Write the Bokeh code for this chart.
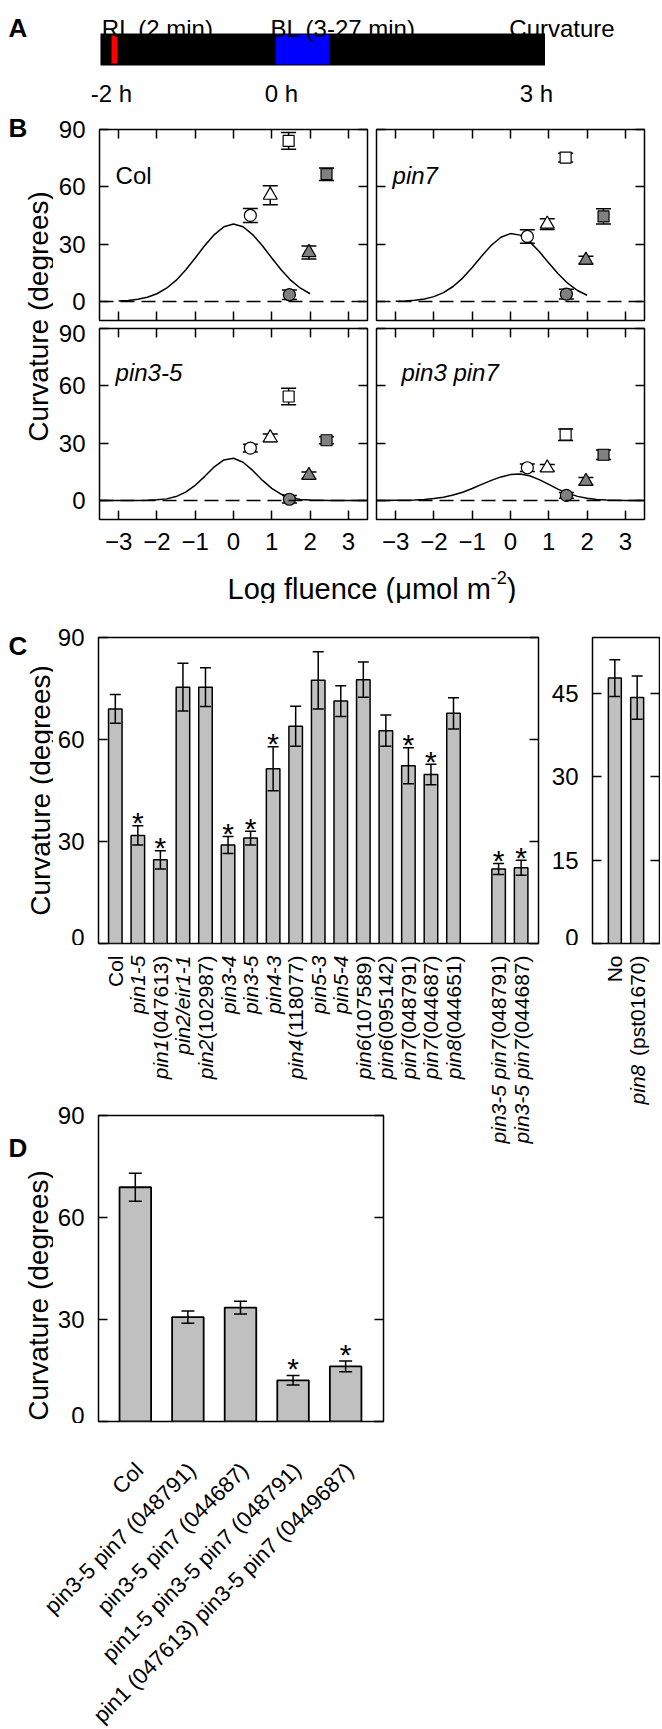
import math
from bokeh.plotting import figure
from bokeh.layouts import column, row
from bokeh.models import Range1d, FixedTicker, LinearAxis, Span, Spacer
from bokeh.core.properties import value
from bokeh.embed import file_html
from bokeh.resources import INLINE

FONT = "Liberation Sans"
BAR_GREY = "#c0c0c0"
MK_GREY = "#808080"

# ---------------- Panel A : light schedule (hours) ----------------
schedule_span = [-2.13, 3.10]
rl_pulse = [-2.00, -1.93]
bl_pulse = [-0.07, 0.56]
time_ticks = [-2, 0, 3]
time_tick_labels = ["-2 h", "0 h", "3 h"]
stage_labels = ["RL (2 min)", "BL (3-27 min)", "Curvature"]

# ---------------- Panel B : fluence response ----------------
b_names = ["Col", "pin7", "pin3-5", "pin3 pin7"]
b_italic = [False, True, True, True]
series_marker = ["circle", "triangle", "square", "square", "triangle", "circle"]
series_filled = [False, False, False, True, True, True]
series_logfluence = [0.44, 0.96, 1.44, 2.43, 1.97, 1.46]

col_mean = [45.0, 55.6, 84.0, 66.6, 25.6, 3.5]
col_err = [3.7, 5.0, 4.4, 3.3, 3.4, 2.5]
pin7_mean = [34.0, 40.5, 75.3, 44.5, 21.6, 3.8]
pin7_err = [3.5, 2.8, 2.3, 4.0, 2.0, 2.5]
pin35_mean = [27.4, 32.8, 54.4, 31.5, 13.1, 0.6]
pin35_err = [2.0, 2.0, 4.3, 1.8, 1.8, 2.0]
pin3pin7_mean = [17.1, 17.0, 34.4, 23.9, 10.0, 2.6]
pin3pin7_err = [2.0, 1.8, 3.0, 2.5, 2.0, 1.5]

curve_upper_x = [-3.0, -2.75, -2.5, -2.25, -2.0, -1.75, -1.5, -1.25, -1.0, -0.75, -0.5,
                 -0.25, 0.0, 0.25, 0.5, 0.75, 1.0, 1.25, 1.5, 1.75, 2.0]
col_curve = [0.2, 0.5, 1.1, 2.2, 4.0, 6.9, 11.0, 16.4, 22.7, 29.3, 35.0,
             39.1, 40.5, 39.1, 35.0, 29.3, 22.7, 16.4, 11.0, 6.9, 4.0]
pin7_curve = [0.1, 0.25, 0.6, 1.3, 2.5, 4.6, 7.8, 12.2, 17.8, 23.8, 29.4,
              33.6, 35.5, 34.7, 31.3, 26.1, 20.1, 14.3, 9.4, 5.7, 3.2]
curve_lower_x = [-3.5, -3.25, -3.0, -2.75, -2.5, -2.25, -2.0, -1.75, -1.5, -1.25, -1.0,
                 -0.75, -0.5, -0.25, 0.0, 0.25, 0.5, 0.75, 1.0, 1.25, 1.5, 1.75, 2.0,
                 2.25, 2.5, 2.75, 3.0, 3.25, 3.5]
pin35_curve = [0.0, 0.0, 0.0, 0.0, 0.0, 0.1, 0.3, 0.8, 2.0, 4.3, 7.9,
               12.6, 17.6, 21.2, 22.1, 20.0, 15.7, 10.6, 6.3, 3.2, 1.4, 0.5, 0.2,
               0.1, 0.0, 0.0, 0.0, 0.0, 0.0]
pin3pin7_curve = [0.0, 0.0, 0.05, 0.1, 0.25, 0.5, 0.95, 1.7, 2.8, 4.3, 6.2,
                  8.4, 10.5, 12.3, 13.5, 13.8, 12.9, 10.9, 8.4, 5.8, 3.7, 2.1, 1.1,
                  0.5, 0.2, 0.1, 0.0, 0.0, 0.0]
b_yticks = [0, 30, 60, 90]
b_xticks = [-3, -2, -1, 0, 1, 2, 3]

# ---------------- Panel C : mutant screen ----------------
c_gene = ["", "pin1-5", "pin1", "pin2/eir1-1", "pin2", "pin3-4", "pin3-5", "pin4-3", "pin4",
          "pin5-3", "pin5-4", "pin6", "pin6", "pin7", "pin7", "pin8", "pin3-5 pin7", "pin3-5 pin7"]
c_allele = ["Col", "", "(047613)", "", "(102987)", "", "", "", "(118077)",
            "", "", "(107589)", "(095142)", "(048791)", "(044687)", "(044651)", "(048791)", "(044687)"]
c_mean = [69.0, 31.8, 24.6, 75.4, 75.4, 29.0, 31.0, 51.4, 63.9,
          77.4, 71.3, 77.6, 62.6, 52.3, 49.7, 67.7, 21.9, 22.3]
c_err = [4.2, 2.8, 2.7, 7.0, 5.7, 2.5, 2.0, 6.5, 5.9,
         8.4, 4.5, 5.2, 4.6, 5.3, 3.0, 4.6, 1.6, 2.2]
c_star = [0, 1, 1, 0, 0, 1, 1, 1, 0, 0, 0, 0, 0, 1, 1, 0, 1, 1]
c_yticks = [0, 30, 60, 90]

c2_gene = ["", "pin8"]
c2_allele = ["No", " (pst01670)"]
c2_mean = [47.7, 44.2]
c2_err = [3.3, 3.9]
c2_yticks = [0, 15, 30, 45]

# ---------------- Panel D : higher order mutants ----------------
d_cats = ["Col", "pin3-5 pin7 (048791)", "pin3-5 pin7 (044687)",
          "pin1-5 pin3-5 pin7 (048791)", "pin1 (047613) pin3-5 pin7 (0449687)"]
d_mean = [68.9, 30.7, 33.5, 12.1, 16.2]
d_err = [4.1, 1.8, 1.9, 1.4, 1.6]
d_star = [0, 0, 0, 1, 1]
d_yticks = [0, 30, 60, 90]

# ---------------- helpers ----------------
_W = {' ': 278, '(': 333, ')': 333, '-': 333, '/': 278, '*': 389,
      'C': 722, 'N': 722, 'L': 556, 'a': 556, 'c': 500, 'e': 556, 'f': 278, 'g': 556,
      'i': 222, 'l': 222, 'm': 833, 'n': 556, 'o': 556, 'p': 556, 'r': 333, 's': 500,
      't': 278, 'u': 556, 'μ': 576}


def text_width(s, size):
    return sum(_W.get(ch, 556) for ch in s) * size / 1000.0


def base_fig(**kw):
    opts = dict(x_axis_location=None, y_axis_location=None, toolbar_location=None,
                output_backend="svg", background_fill_color="white", border_fill_color="white",
                frame_align=False)
    opts.update(kw)
    p = figure(**opts)
    p.xgrid.grid_line_color = None
    p.ygrid.grid_line_color = None
    return p


def text_fig(w, h, xr=None, **kw):
    """A blank canvas whose frame is the whole canvas (y measured downward in px)."""
    xr = xr if xr is not None else (0, w)
    return base_fig(width=w, height=h, x_range=Range1d(*xr), y_range=Range1d(h, 0),
                    min_border=0, min_border_left=0, min_border_right=0, min_border_top=0,
                    min_border_bottom=0, outline_line_color=None, **kw)


def add_axis(p, side, ticks, show_labels, standoff=14):
    ax = LinearAxis(ticker=FixedTicker(ticks=ticks), axis_line_color=None,
                    major_tick_in=9, major_tick_out=0, major_tick_line_width=1.5,
                    major_tick_line_color="black", minor_tick_line_color=None)
    if show_labels:
        ax.major_label_text_font = FONT
        ax.major_label_text_font_size = "24px"
        ax.major_label_text_color = "black"
        ax.major_label_standoff = standoff
    else:
        ax.major_label_text_font_size = "0px"
        ax.major_label_standoff = 0
        ax.major_label_overrides = {t: "" for t in ticks}
    p.add_layout(ax, side)


def txt(p, x, y, s, size, style="normal", align="left", baseline="alphabetic", angle=0.0):
    p.text(x=[x], y=[y], text=[s], text_font=value(FONT), text_font_size=size,
           text_font_style=style, text_align=align, text_baseline=baseline,
           angle=angle, text_color="black")


def px_range(xr, fw, frame_left, c0, c1):
    """data range seen by a canvas spanning canvas-x c0..c1, for a frame starting at frame_left."""
    s = fw / float(xr[1] - xr[0])
    return (xr[0] + (c0 - frame_left) / s, xr[0] + (c1 - frame_left) / s)


# ================= Panel A =================
A_W, A_H = 652, 105
pA = text_fig(A_W, A_H, xr=(-3.212, 4.459))
pA.quad(left=[schedule_span[0]], right=[schedule_span[1]], top=[33], bottom=[65],
        fill_color="black", line_color=None)
pA.quad(left=[rl_pulse[0]], right=[rl_pulse[1]], top=[35], bottom=[63],
        fill_color="#ff0000", line_color=None)
pA.quad(left=[bl_pulse[0]], right=[bl_pulse[1]], top=[34], bottom=[64],
        fill_color="#0000ff", line_color=None)
for s, sx, al in zip(stage_labels, [-2.114, -0.13, 3.92], ["left", "left", "right"]):
    txt(pA, sx, 28, s, "24px", align=al)
for t, lab in zip(time_ticks, time_tick_labels):
    txt(pA, t, 93, lab, "24px", align="center")
txt(pA, -3.212, 27, "A", "26px", style="bold")

# ================= Panel B =================
B_FW, B_FH = 268, 191


def make_b(k, mean, err, cx, cy, left_lbl, bottom_lbl, bl, br, bt, bb, name_y):
    p = base_fig(frame_width=B_FW, frame_height=B_FH, x_range=Range1d(-3.5, 3.5),
                 y_range=Range1d(-10, 90), min_border_left=bl, min_border_right=br,
                 min_border_top=bt, min_border_bottom=bb,
                 outline_line_color="black", outline_line_width=1.5)
    add_axis(p, "left", b_yticks, left_lbl)
    add_axis(p, "right", b_yticks, False)
    add_axis(p, "below", b_xticks, bottom_lbl, standoff=13)
    add_axis(p, "above", b_xticks, False)
    p.add_layout(Span(location=0, dimension="width", line_color="black",
                      line_width=1.5, line_dash="14 7"))
    p.line(cx, cy, line_color="black", line_width=1.5)
    xs = series_logfluence
    lo = [m - e for m, e in zip(mean, err)]
    hi = [m + e for m, e in zip(mean, err)]
    p.segment(x0=xs, y0=lo, x1=xs, y1=hi, line_color="black", line_width=1.5)
    p.scatter(x=xs + xs, y=lo + hi, marker="dash", size=15, line_color="black", line_width=1.5)
    sizes = {"circle": 12, "triangle": 14, "square": 11}
    for j in range(len(xs)):
        p.scatter(x=[xs[j]], y=[mean[j]], marker=series_marker[j], size=sizes[series_marker[j]],
                  fill_color=MK_GREY if series_filled[j] else "white",
                  line_color="black", line_width=1.2)
    txt(p, -3.08 if k != 3 else -2.85, name_y, b_names[k], "24px",
        style="italic" if b_italic[k] else "normal")
    return p


pUL = make_b(0, col_mean, col_err, curve_upper_x, col_curve, True, False, 46, 4, 24, 4, 66)
pUR = make_b(1, pin7_mean, pin7_err, curve_upper_x, pin7_curve, False, False, 5, 16, 24, 4, 66)
pLL = make_b(2, pin35_mean, pin35_err, curve_lower_x, pin35_curve, True, True, 46, 4, 4, 46, 67)
pLR = make_b(3, pin3pin7_mean, pin3pin7_err, curve_lower_x, pin3pin7_curve, False, True, 5, 16, 4, 46, 67)

pBs = text_fig(45, 460)
txt(pBs, 0, 22, "B", "26px", style="bold")
txt(pBs, 30, 211, "Curvature (degrees)", "28px", align="center", baseline="middle", angle=math.pi / 2)

BX_H = 38
pBx = text_fig(652, BX_H)
main_t, sup_t, close_t = "Log fluence (μmol m", "-2", ")"
w_main, w_sup, w_close = text_width(main_t, 29), text_width(sup_t, 18), text_width(close_t, 29)
x0 = 363.5 - (w_main + w_sup + w_close) / 2.0
txt(pBx, x0, 23, main_t, "29px")
txt(pBx, x0 + w_main, 12, sup_t, "18px")
txt(pBx, x0 + w_main + w_sup, 23, close_t, "29px")

# ================= Panel C =================
C_FH = 306
C_TOP, C_BOT = 34, 2
c_x = [i if i < 16 else i + 1 for i in range(len(c_mean))]
C_XR = (-0.745, 18.77)
C_FW, C_BL, C_BR = 440, 45, 6
C_FRAME_LEFT = 45 + C_BL
pC = base_fig(frame_width=C_FW, frame_height=C_FH, x_range=Range1d(*C_XR), y_range=Range1d(0, 90),
              min_border_left=C_BL, min_border_right=C_BR, min_border_top=C_TOP, min_border_bottom=C_BOT,
              outline_line_color="black", outline_line_width=1.5)
add_axis(pC, "left", c_yticks, True)
add_axis(pC, "right", c_yticks, False)
pC.vbar(x=c_x, top=c_mean, bottom=0, width=0.6, fill_color=BAR_GREY, line_color="black", line_width=1.5)
c_lo = [m - e for m, e in zip(c_mean, c_err)]
c_hi = [m + e for m, e in zip(c_mean, c_err)]
pC.segment(x0=c_x, y0=c_lo, x1=c_x, y1=c_hi, line_color="black", line_width=1.5)
pC.scatter(x=c_x + c_x, y=c_lo + c_hi, marker="dash", size=11, line_color="black", line_width=1.5)
sx = [c_x[i] for i in range(len(c_x)) if c_star[i]]
sy = [c_hi[i] + 0.9 for i in range(len(c_x)) if c_star[i]]
pC.text(x=sx, y=sy, text=["*"] * len(sx), text_font=value(FONT), text_font_size="30px",
        text_align="center", text_baseline="alphabetic")

C2_XR = (-1, 2)
C2_FW, C2_BL, C2_BR = 67, 48, 1
c2_x = list(range(len(c2_mean)))
pC2 = base_fig(frame_width=C2_FW, frame_height=C_FH, x_range=Range1d(*C2_XR), y_range=Range1d(0, 55),
               min_border_left=C2_BL, min_border_right=C2_BR, min_border_top=C_TOP, min_border_bottom=C_BOT,
               outline_line_color="black", outline_line_width=1.5)
add_axis(pC2, "left", c2_yticks, True)
add_axis(pC2, "right", c2_yticks, False)
pC2.vbar(x=c2_x, top=c2_mean, bottom=0, width=0.58, fill_color=BAR_GREY, line_color="black", line_width=1.5)
c2_lo = [m - e for m, e in zip(c2_mean, c2_err)]
c2_hi = [m + e for m, e in zip(c2_mean, c2_err)]
pC2.segment(x0=c2_x, y0=c2_lo, x1=c2_x, y1=c2_hi, line_color="black", line_width=1.5)
pC2.scatter(x=c2_x + c2_x, y=c2_lo + c2_hi, marker="dash", size=11, line_color="black", line_width=1.5)

pCs = text_fig(45, C_TOP + C_FH + C_BOT)
txt(pCs, 0, 42, "C", "26px", style="bold")
txt(pCs, 32, C_TOP + C_FH / 2.0, "Curvature (degrees)", "28px", align="center", baseline="middle",
    angle=math.pi / 2)

# ---- panel D geometry (needed for the label strip sizes) ----
D_FW, D_FH, D_BL, D_TOP, D_BOT = 285, 306, 45, 27, 2
D_SHIFT = 27            # extra offset the layout gives the D plot inside its row

# label strips under panel C: left part (above panel D) and right part
LEFT_W = 389
C_CANVAS_W = 45 + C_BL + C_FW + C_BR
LABC_LEFT_H = 170 - D_SHIFT
LABC_RIGHT_H = 210
xr_left = px_range(C_XR, C_FW, C_FRAME_LEFT, 0, LEFT_W)
xr_right = px_range(C_XR, C_FW, C_FRAME_LEFT, LEFT_W, C_CANVAS_W)
labC_left = text_fig(LEFT_W, LABC_LEFT_H, xr=xr_left)
labC_right = text_fig(C_CANVAS_W - LEFT_W, LABC_RIGHT_H, xr=xr_right)
labC2 = text_fig(C2_BL + C2_FW + C2_BR, LABC_RIGHT_H,
                 xr=px_range(C2_XR, C2_FW, C2_BL, 0, C2_BL + C2_FW + C2_BR))


def rot_label(p, x, g, a, top_y=10, size=21):
    yy = top_y
    if a:
        txt(p, x, yy, a.strip(), "%dpx" % size, align="right", baseline="middle", angle=math.pi / 2)
        yy += text_width(a, size) + (3 if a.startswith(" ") else 0)
    if g:
        txt(p, x, yy, g, "%dpx" % size, style="italic", align="right", baseline="middle",
            angle=math.pi / 2)


for x, g, a in zip(c_x, c_gene, c_allele):
    rot_label(labC_left if x < xr_left[1] - 0.5 else labC_right, x, g, a)
for x, g, a in zip(c2_x, c2_gene, c2_allele):
    rot_label(labC2, x, g, a)

# ================= Panel D =================
d_x = list(range(len(d_mean)))
D_XR = (-0.70, 4.72)
D_BR = LEFT_W - 45 - D_BL - D_FW
pD = base_fig(width=D_BL + D_FW + D_BR, height=D_TOP + D_FH + D_BOT,
              x_range=Range1d(*D_XR), y_range=Range1d(0, 90),
              min_border_left=D_BL, min_border_right=D_BR, min_border_top=D_TOP, min_border_bottom=D_BOT,
              outline_line_color="black", outline_line_width=1.5)
add_axis(pD, "left", d_yticks, True)
add_axis(pD, "right", d_yticks, False)
pD.vbar(x=d_x, top=d_mean, bottom=0, width=0.6, fill_color=BAR_GREY, line_color="black", line_width=1.8)
d_lo = [m - e for m, e in zip(d_mean, d_err)]
d_hi = [m + e for m, e in zip(d_mean, d_err)]
pD.segment(x0=d_x, y0=d_lo, x1=d_x, y1=d_hi, line_color="black", line_width=1.5)
pD.scatter(x=d_x + d_x, y=d_lo + d_hi, marker="dash", size=13, line_color="black", line_width=1.5)
dsx = [d_x[i] for i in range(len(d_x)) if d_star[i]]
dsy = [d_hi[i] + 2.0 for i in range(len(d_x)) if d_star[i]]
pD.text(x=dsx, y=dsy, text=["*"] * len(dsx), text_font=value(FONT), text_font_size="30px",
        text_align="center", text_baseline="alphabetic")

DS_H = D_SHIFT + D_TOP + D_FH + D_BOT
pDs = text_fig(45, DS_H)
txt(pDs, 0, D_SHIFT + 32, "D", "26px", style="bold")
txt(pDs, 30, D_SHIFT + D_TOP + D_FH / 2.0, "Curvature (degrees)", "28px", align="center",
    baseline="middle", angle=math.pi / 2)

LABD_H = 277
labD = text_fig(LEFT_W, LABD_H, xr=px_range(D_XR, D_FW, 45 + D_BL, 0, LEFT_W))
sD = D_FW / (D_XR[1] - D_XR[0])
for x, s in zip(d_x, d_cats):
    txt(labD, x + 4.0 / sD, 16, s, "22px", align="right", baseline="middle", angle=math.pi / 4)

# ================= Layout =================
b_block = row(pBs, column(row(pUL, pUR), row(pLL, pLR)))
left_col = column(labC_left, row(pDs, pD), labD)
left_h = LABC_LEFT_H + DS_H + LABD_H
right_col = column(row(labC_right, labC2),
                   Spacer(width=652 - LEFT_W, height=left_h - LABC_RIGHT_H))
bottom = row(left_col, right_col)
layout = column(pA, b_block, pBx, row(pCs, pC, pC2), bottom, margin=(0, 0, 0, 8))

open("out.html", "w").write(file_html(layout, INLINE))
